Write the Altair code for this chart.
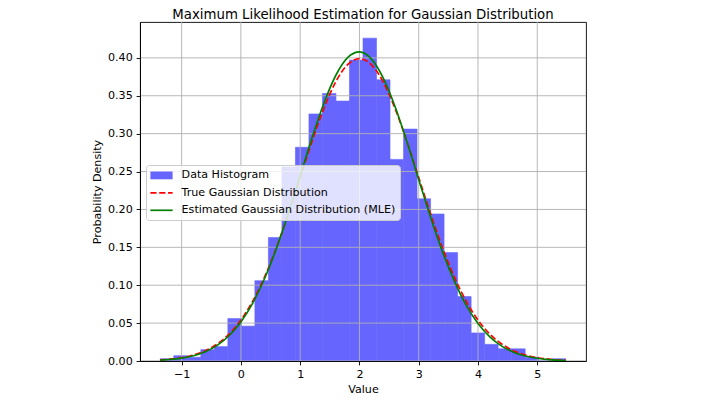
import altair as alt
import pandas as pd

# ---- data ----
bin_edges = [-1.36, -1.132, -0.904, -0.676, -0.448, -0.220, 0.008, 0.236, 0.464, 0.692,
             0.920, 1.148, 1.376, 1.604, 1.832, 2.060, 2.288, 2.516, 2.744, 2.972,
             3.200, 3.428, 3.656, 3.884, 4.112, 4.340, 4.568, 4.796, 5.024, 5.252, 5.480]
hist_density = [0.003, 0.007, 0.005, 0.015, 0.019, 0.056, 0.046, 0.106, 0.163, 0.256,
                0.282, 0.326, 0.353, 0.343, 0.397, 0.426, 0.371, 0.266, 0.306, 0.214,
                0.194, 0.143, 0.085, 0.037, 0.022, 0.016, 0.016, 0.005, 0.000, 0.003]

curve_x = [-1.36, -1.2, -1.0, -0.8, -0.6, -0.4, -0.2, 0.0, 0.2, 0.4, 0.6, 0.8, 1.0, 1.2,
           1.4, 1.6, 1.8, 2.0, 2.2, 2.4, 2.6, 2.8, 3.0, 3.2, 3.4, 3.6, 3.8, 4.0, 4.2, 4.4,
           4.6, 4.8, 5.0, 5.2, 5.4, 5.48]
true_pdf = [0.0014, 0.0024, 0.0044, 0.0079, 0.0136, 0.0224, 0.0355, 0.0540, 0.0790, 0.1109,
            0.1497, 0.1942, 0.2420, 0.2897, 0.3332, 0.3683, 0.3910, 0.3989, 0.3910, 0.3683,
            0.3332, 0.2897, 0.2420, 0.1942, 0.1497, 0.1109, 0.0790, 0.0540, 0.0355, 0.0224,
            0.0136, 0.0079, 0.0044, 0.0024, 0.0012, 0.0009]
mle_pdf = [0.0012, 0.0020, 0.0038, 0.0070, 0.0122, 0.0206, 0.0333, 0.0515, 0.0764, 0.1088,
           0.1486, 0.1946, 0.2444, 0.2944, 0.3401, 0.3767, 0.4003, 0.4079, 0.3986, 0.3736,
           0.3358, 0.2895, 0.2393, 0.1898, 0.1443, 0.1058, 0.0736, 0.0494, 0.0318, 0.0196,
           0.0116, 0.0066, 0.0036, 0.0019, 0.0009, 0.0007]

x_ticks = [-1, 0, 1, 2, 3, 4, 5]
y_ticks = [0.0, 0.05, 0.10, 0.15, 0.20, 0.25, 0.30, 0.35, 0.40]

series_names = ["Data Histogram", "True Gaussian Distribution",
                "Estimated Gaussian Distribution (MLE)"]
series_colors = ["#6666ff", "#ff0000", "#008000"]

# ---- tables ----
hist_df = pd.DataFrame({"x0": bin_edges[:-1], "x1": bin_edges[1:], "density": hist_density})
curve_df = pd.DataFrame({"x": curve_x, "true": true_pdf, "mle": mle_pdf})
xt_df = pd.DataFrame({"v": x_ticks})
yt_df = pd.DataFrame({"v": y_ticks})
leg_df = pd.DataFrame({"series": series_names})

FONT = "DejaVu Sans"
xscale = alt.Scale(domain=[-1.702, 5.822], nice=False, zero=False)
yscale = alt.Scale(domain=[0, 0.4473], nice=False, zero=False)

common_axis = dict(grid=False, domain=True, domainColor="black", domainWidth=0.9,
                   ticks=True, tickColor="black", tickWidth=0.9, tickSize=3.9,
                   labelFont=FONT, labelFontSize=11.1, labelColor="black", labelPadding=3.9,
                   titleFont=FONT, titleFontSize=11.1, titleFontWeight="normal",
                   titleColor="black", zindex=1)
xaxis = alt.Axis(values=x_ticks, format="d", title="Value", titlePadding=4, **common_axis)
yaxis = alt.Axis(values=y_ticks, format=".2f", title="Probability Density",
                 titlePadding=4.5, **common_axis)

bars = alt.Chart(hist_df).mark_bar(color="#6666ff", stroke="#6666ff", strokeWidth=0.6).encode(
    x=alt.X("x0:Q", scale=xscale, axis=xaxis),
    x2="x1:Q",
    y=alt.Y("density:Q", scale=yscale, axis=yaxis),
    y2=alt.datum(0),
)

xgrid = alt.Chart(xt_df).mark_rule(color="#b0b0b0", strokeWidth=0.9).encode(
    x=alt.X("v:Q", scale=xscale, axis=xaxis)
)
ygrid = alt.Chart(yt_df).mark_rule(color="#b0b0b0", strokeWidth=0.9).encode(
    y=alt.Y("v:Q", scale=yscale, axis=yaxis)
)

true_line = alt.Chart(curve_df).mark_line(
    color="#ff0000", strokeWidth=1.66, strokeDash=[6.16, 2.66], interpolate="monotone"
).encode(
    x=alt.X("x:Q", scale=xscale, axis=xaxis),
    y=alt.Y("true:Q", scale=yscale, axis=yaxis),
)
mle_line = alt.Chart(curve_df).mark_line(
    color="#008000", strokeWidth=1.66, interpolate="monotone"
).encode(
    x=alt.X("x:Q", scale=xscale, axis=xaxis),
    y=alt.Y("mle:Q", scale=yscale, axis=yaxis),
)

# legend swatches (unit = 6 px, symbol box 12 px, drawn 22.2 px wide)
rect_path = "M-1.85,-0.65H1.85V0.65H-1.85Z"
dash_path = ("M-1.85,-0.14H-0.823V0.14H-1.85Z M-0.38,-0.14H0.647V0.14H-0.38Z "
             "M1.09,-0.14H1.85V0.14H1.09Z")
line_path = "M-1.85,-0.14H1.85V0.14H-1.85Z"

legend = alt.Legend(title=None, orient="none", legendX=6, legendY=143,
                    symbolSize=144, symbolStrokeWidth=0, symbolOpacity=1,
                    symbolOffset=5.1,
                    labelFont=FONT, labelFontSize=11.1, labelColor="black",
                    labelOffset=14.1, rowPadding=5.45, padding=4.4, labelLimit=400,
                    fillColor="rgba(255,255,255,0.8)", strokeColor="#cccccc",
                    cornerRadius=3)

legend_layer = alt.Chart(leg_df).mark_point(filled=True, opacity=1).encode(
    color=alt.Color("series:N", scale=alt.Scale(domain=series_names, range=series_colors),
                    legend=legend),
    shape=alt.Shape("series:N", scale=alt.Scale(domain=series_names,
                                                range=[rect_path, dash_path, line_path]),
                    legend=legend),
).transform_filter("false")

chart = alt.layer(bars, xgrid, ygrid, true_line, mle_line, legend_layer).properties(
    width=446,
    height=339,
    title=alt.TitleParams(text="Maximum Likelihood Estimation for Gaussian Distribution",
                          font=FONT, fontSize=13.3, fontWeight="normal", color="black",
                          anchor="middle", offset=0.5),
    autosize=alt.AutoSizeParams(type="none"),
    padding={"left": 132, "top": 14, "right": 125, "bottom": 38},
).configure_view(stroke="black", strokeWidth=0.9)

chart.save("out.html", embed_options={"renderer": "svg", "actions": False})
